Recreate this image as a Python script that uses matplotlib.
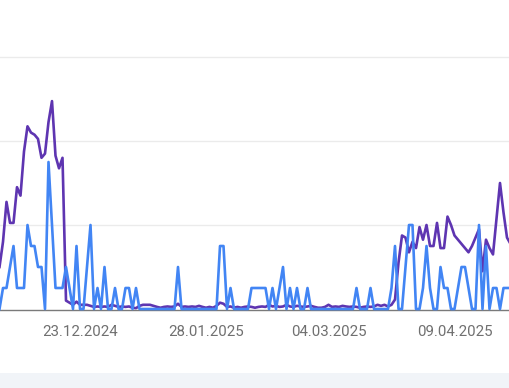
import matplotlib
matplotlib.use('Agg')
import matplotlib.pyplot as plt
import matplotlib.dates as mdates
import pandas as pd
from matplotlib.patches import Rectangle

start_date = '2024-11-30'

clicks = [
    0, 1, 1, 2, 3, 1, 1, 1, 4, 3,
    3, 2, 2, 0, 7, 4, 1, 1, 1, 2,
    1, 0, 3, 0, 0, 2, 4, 0, 1, 0,
    2, 0, 0, 1, 0, 0, 1, 1, 0, 1,
    0, 0, 0, 0, 0, 0, 0, 0, 0, 0,
    0, 2, 0, 0, 0, 0, 0, 0, 0, 0,
    0, 0, 0, 3, 3, 0, 1, 0, 0, 0,
    0, 0, 1, 1, 1, 1, 1, 0, 1, 0,
    1, 2, 0, 1, 0, 1, 0, 0, 1, 0,
    0, 0, 0, 0, 0, 0, 0, 0, 0, 0,
    0, 0, 1, 0, 0, 0, 1, 0, 0, 0,
    0, 0, 1, 3, 0, 0, 2, 4, 4, 0,
    0, 1, 3, 1, 0, 0, 2, 1, 1, 0,
    0, 1, 2, 2, 1, 0, 0, 4, 0, 3,
    0, 1, 1, 0, 1, 1, 1, 1,
]

impressions = [
    2.0, 3.2, 5.1, 4.1, 4.1, 5.8, 5.4, 7.5, 8.7, 8.4,
    8.3, 8.1, 7.2, 7.4, 8.9, 9.9, 7.3, 6.7, 7.2, 0.4,
    0.3, 0.2, 0.35, 0.2, 0.2, 0.2, 0.15, 0.1, 0.12, 0.1,
    0.12, 0.1, 0.2, 0.15, 0.1, 0.12, 0.1, 0.12, 0.06, 0.04,
    0.15, 0.2, 0.2, 0.2, 0.15, 0.1, 0.06, 0.1, 0.12, 0.1,
    0.12, 0.25, 0.1, 0.12, 0.1, 0.12, 0.1, 0.15, 0.1, 0.06,
    0.1, 0.06, 0.15, 0.3, 0.25, 0.1, 0.12, 0.06, 0.1, 0.06,
    0.1, 0.12, 0.1, 0.06, 0.1, 0.12, 0.1, 0.2, 0.12, 0.15,
    0.1, 0.12, 0.2, 0.12, 0.1, 0.15, 0.12, 0.1, 0.12, 0.15,
    0.1, 0.06, 0.06, 0.1, 0.2, 0.1, 0.12, 0.1, 0.15, 0.12,
    0.1, 0.12, 0.1, 0.06, 0.1, 0.12, 0.1, 0.12, 0.2, 0.15,
    0.2, 0.12, 0.2, 0.45, 2.2, 3.5, 3.4, 2.7, 3.2, 2.9,
    3.9, 3.3, 4.0, 3.0, 3.0, 4.1, 2.9, 2.9, 4.4, 4.0,
    3.5, 3.3, 3.1, 2.9, 2.7, 3.0, 3.4, 3.8, 1.8, 3.3,
    2.9, 2.6, 4.3, 6.0, 4.6, 3.4, 3.1, 3.3,
]

tick_dates = ['2024-12-23', '2025-01-28', '2025-03-04', '2025-04-09']
tick_labels = ['23.12.2024', '28.01.2025', '04.03.2025', '09.04.2025']
grid_values = [4, 8, 12]

dates = pd.date_range(start_date, periods=len(clicks), freq='D')
xnum = mdates.date2num(dates)

W, H = 510, 388
fig = plt.figure(figsize=(W / 100, H / 100), dpi=100)
fig.patch.set_facecolor('white')
fig.patches.append(Rectangle((0, 0), 1, 15 / H, transform=fig.transFigure,
                             facecolor='#f1f4f8', edgecolor='none', zorder=0))

ax = fig.add_axes([0, (H - 310) / H, 1, 310 / H])
ax.set_facecolor('white')

px_per_day = 3.5
first_px = 3.0
d0 = mdates.date2num(pd.Timestamp('2024-12-01'))
ax.set_xlim(d0 - first_px / px_per_day, d0 + (W - first_px) / px_per_day)
unit_px = 21.0
ax.set_ylim(-1 / unit_px, (310 - 1) / unit_px)

ax.plot(xnum, impressions, color='#5e35b1', lw=1.9, solid_joinstyle='round',
        zorder=3, clip_on=False)
ax.plot(xnum, clicks, color='#4285f4', lw=1.9, solid_joinstyle='round',
        zorder=4, clip_on=False)

ax.set_yticks(grid_values)
ax.yaxis.grid(True, color='#ebebeb', lw=1.0)
ax.tick_params(axis='y', length=0, labelleft=False)
ax.set_axisbelow(True)

ax.set_xticks([mdates.date2num(pd.Timestamp(d)) for d in tick_dates])
ax.set_xticklabels(tick_labels, fontfamily='Roboto', fontsize=10.8, color='#707070')
ax.tick_params(axis='x', length=0, pad=10.5)

for s in ['top', 'left', 'right']:
    ax.spines[s].set_visible(False)
ax.spines['bottom'].set_color('#7a7a7a')
ax.spines['bottom'].set_linewidth(1.0)
ax.spines['bottom'].set_zorder(2)

fig.savefig('out.png', dpi=100)
